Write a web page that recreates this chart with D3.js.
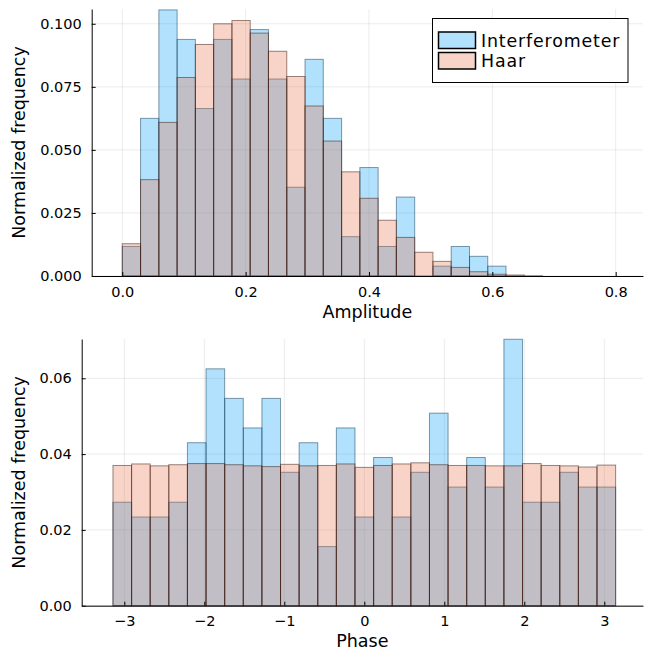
<!DOCTYPE html>
<html>
<head>
<meta charset="utf-8">
<script src="https://cdn.jsdelivr.net/npm/d3@7"></script>
<style>
  html, body { margin: 0; padding: 0; background: #fff; }
  svg { display: block; font-family: "DejaVu Sans", sans-serif; }
</style>
</head>
<body>
<svg id="chart" width="645" height="650"></svg>
<script>
// ---------------- DATA ----------------
const seriesNames = ["Interferometer", "Haar"];

const amplitudeEdges = [0, 0.0296, 0.0593, 0.0889, 0.1185, 0.1481, 0.1778, 0.2074, 0.2370, 0.2667,
  0.2963, 0.3259, 0.3556, 0.3852, 0.4148, 0.4444, 0.4741, 0.5037, 0.5333, 0.5630, 0.5926,
  0.6222, 0.6519, 0.6815, 0.7111, 0.7407, 0.7704, 0.8];
const amplitudeInterferometer = [0.0117, 0.0625, 0.1055, 0.0938, 0.0664, 0.0938, 0.0781, 0.0977, 0.0781,
  0.0352, 0.0859, 0.0625, 0.0156, 0.0430, 0.0117, 0.0313, 0, 0.0039, 0.0117, 0.0078, 0.0039,
  0, 0, 0, 0, 0, 0];
const amplitudeHaar = [0.0128, 0.0382, 0.0609, 0.0787, 0.0918, 0.1000, 0.1013, 0.0963, 0.0891,
  0.0791, 0.0674, 0.0535, 0.0413, 0.0308, 0.0221, 0.0153, 0.0094, 0.0058, 0.0034, 0.0017, 0.0007,
  0.0004, 0.0001, 0, 0, 0, 0];

const phaseEdges = [-3.1416, -2.9089, -2.6762, -2.4435, -2.2108, -1.9780, -1.7453, -1.5126, -1.2799,
  -1.0472, -0.8145, -0.5818, -0.3491, -0.1164, 0.1164, 0.3491, 0.5818, 0.8145, 1.0472, 1.2799,
  1.5126, 1.7453, 1.9780, 2.2108, 2.4435, 2.6762, 2.9089, 3.1416];
const phaseInterferometer = [0.0273, 0.0234, 0.0234, 0.0273, 0.0430, 0.0625, 0.0547, 0.0469, 0.0547,
  0.0352, 0.0430, 0.0156, 0.0469, 0.0234, 0.0391, 0.0234, 0.0352, 0.0508, 0.0313, 0.0391, 0.0313,
  0.0703, 0.0273, 0.0273, 0.0352, 0.0313, 0.0313];
const phaseHaar = [0.0370, 0.0374, 0.0369, 0.0372, 0.0375, 0.0375, 0.0372, 0.0369, 0.0367, 0.0373,
  0.0369, 0.0370, 0.0374, 0.0365, 0.0370, 0.0374, 0.0377, 0.0372, 0.0370, 0.0370, 0.0369, 0.0369,
  0.0375, 0.0370, 0.0369, 0.0366, 0.0371];

const amplitudeXTicks = [0, 0.2, 0.4, 0.6, 0.8];
const amplitudeYTicks = [0, 0.025, 0.05, 0.075, 0.1];
const phaseXTicks = [-3, -2, -1, 0, 1, 2, 3];
const phaseYTicks = [0, 0.02, 0.04, 0.06];

// ---------------- STYLE ----------------
const colors = ["#009AFA", "#E36F47"];
const fillAlpha = 0.3;
const strokeColors = ["#0f3a55", "#3a1408"];
const strokeAlpha = 0.5;

const svg = d3.select("#chart");

function panel(cfg) {
  const x = d3.scaleLinear().domain(cfg.xDomain).range([cfg.left, cfg.right]);
  const y = d3.scaleLinear().domain(cfg.yDomain).range([cfg.bottom, cfg.top]);
  const g = svg.append("g");

  // grid
  g.append("g").selectAll("line.vx").data(cfg.xTicks).join("line")
    .attr("x1", d => x(d)).attr("x2", d => x(d))
    .attr("y1", cfg.top).attr("y2", cfg.bottom)
    .attr("stroke", "#000").attr("stroke-opacity", 0.1).attr("stroke-width", 0.8);
  g.append("g").selectAll("line.hy").data(cfg.yTicks).join("line")
    .attr("x1", cfg.left).attr("x2", cfg.right)
    .attr("y1", d => y(d)).attr("y2", d => y(d))
    .attr("stroke", "#000").attr("stroke-opacity", 0.1).attr("stroke-width", 0.8);

  // bars
  cfg.series.forEach((vals, si) => {
    g.append("g").selectAll("rect").data(vals).join("rect")
      .attr("x", (d, i) => x(cfg.edges[i]))
      .attr("width", (d, i) => x(cfg.edges[i + 1]) - x(cfg.edges[i]))
      .attr("y", d => y(d))
      .attr("height", d => y(0) - y(d))
      .attr("fill", colors[si]).attr("fill-opacity", fillAlpha)
      .attr("stroke", strokeColors[si]).attr("stroke-opacity", strokeAlpha)
      .attr("stroke-width", 1);
  });

  // axes
  const xAxis = d3.axisBottom(x).tickValues(cfg.xTicks).tickFormat(cfg.xFormat)
    .tickSizeInner(-4).tickSizeOuter(0).tickPadding(10.5);
  const yAxis = d3.axisLeft(y).tickValues(cfg.yTicks).tickFormat(cfg.yFormat)
    .tickSizeInner(-4).tickSizeOuter(0).tickPadding(10);

  const gx = g.append("g").attr("transform", `translate(0,${cfg.bottom})`).call(xAxis);
  const gy = g.append("g").attr("transform", `translate(${cfg.left},0)`).call(yAxis);
  [gx, gy].forEach(a => {
    a.selectAll("text").attr("font-size", 14.5).attr("fill", "#000")
      .attr("font-family", "DejaVu Sans, sans-serif");
    a.selectAll("line").attr("stroke", "#000");
    a.select(".domain").attr("stroke", "#000").attr("stroke-width", 1);
  });

  // titles
  g.append("text").attr("x", (cfg.left + cfg.right) / 2).attr("y", cfg.xTitleY)
    .attr("text-anchor", "middle").attr("font-size", 17.5).text(cfg.xTitle);
  g.append("text")
    .attr("transform", `translate(25,${(cfg.top + cfg.bottom) / 2}) rotate(-90)`)
    .attr("text-anchor", "middle").attr("font-size", 17.5).text(cfg.yTitle);
  return { x, y };
}

const fmt3 = d3.format(".3f");
const fmt1 = d3.format(".1f");
const fmt2 = d3.format(".2f");
const fmtInt = d => d < 0 ? "\u2212" + Math.abs(d) : String(d);

panel({
  left: 91.7, right: 643, top: 9, bottom: 276,
  xDomain: [-0.0496, 0.8443], yDomain: [0, 0.10586],
  edges: amplitudeEdges, series: [amplitudeInterferometer, amplitudeHaar],
  xTicks: amplitudeXTicks, yTicks: amplitudeYTicks,
  xFormat: fmt1, yFormat: fmt3,
  xTitle: "Amplitude", xTitleY: 318, yTitle: "Normalized frequency"
});

panel({
  left: 81.7, right: 643, top: 339, bottom: 605.7,
  xDomain: [-3.5325, 3.4838], yDomain: [0, 0.07037],
  edges: phaseEdges, series: [phaseInterferometer, phaseHaar],
  xTicks: phaseXTicks, yTicks: phaseYTicks,
  xFormat: fmtInt, yFormat: fmt2,
  xTitle: "Phase", xTitleY: 646.5, yTitle: "Normalized frequency"
});

// legend
const lg = svg.append("g");
lg.append("rect").attr("x", 432.5).attr("y", 18.5).attr("width", 195.5).attr("height", 64)
  .attr("fill", "#fff").attr("stroke", "#000").attr("stroke-width", 1);
seriesNames.forEach((name, i) => {
  lg.append("rect").attr("x", 438.5).attr("y", 32 + i * 20.5).attr("width", 37).attr("height", 16.5)
    .attr("fill", colors[i]).attr("fill-opacity", fillAlpha)
    .attr("stroke", "#000").attr("stroke-width", 1.5);
  lg.append("text").attr("x", 481).attr("y", 46.7 + i * 20.6)
    .attr("font-size", 17.4).attr("letter-spacing", 0.85).attr("fill", "#000").text(name);
});
</script>
</body>
</html>
